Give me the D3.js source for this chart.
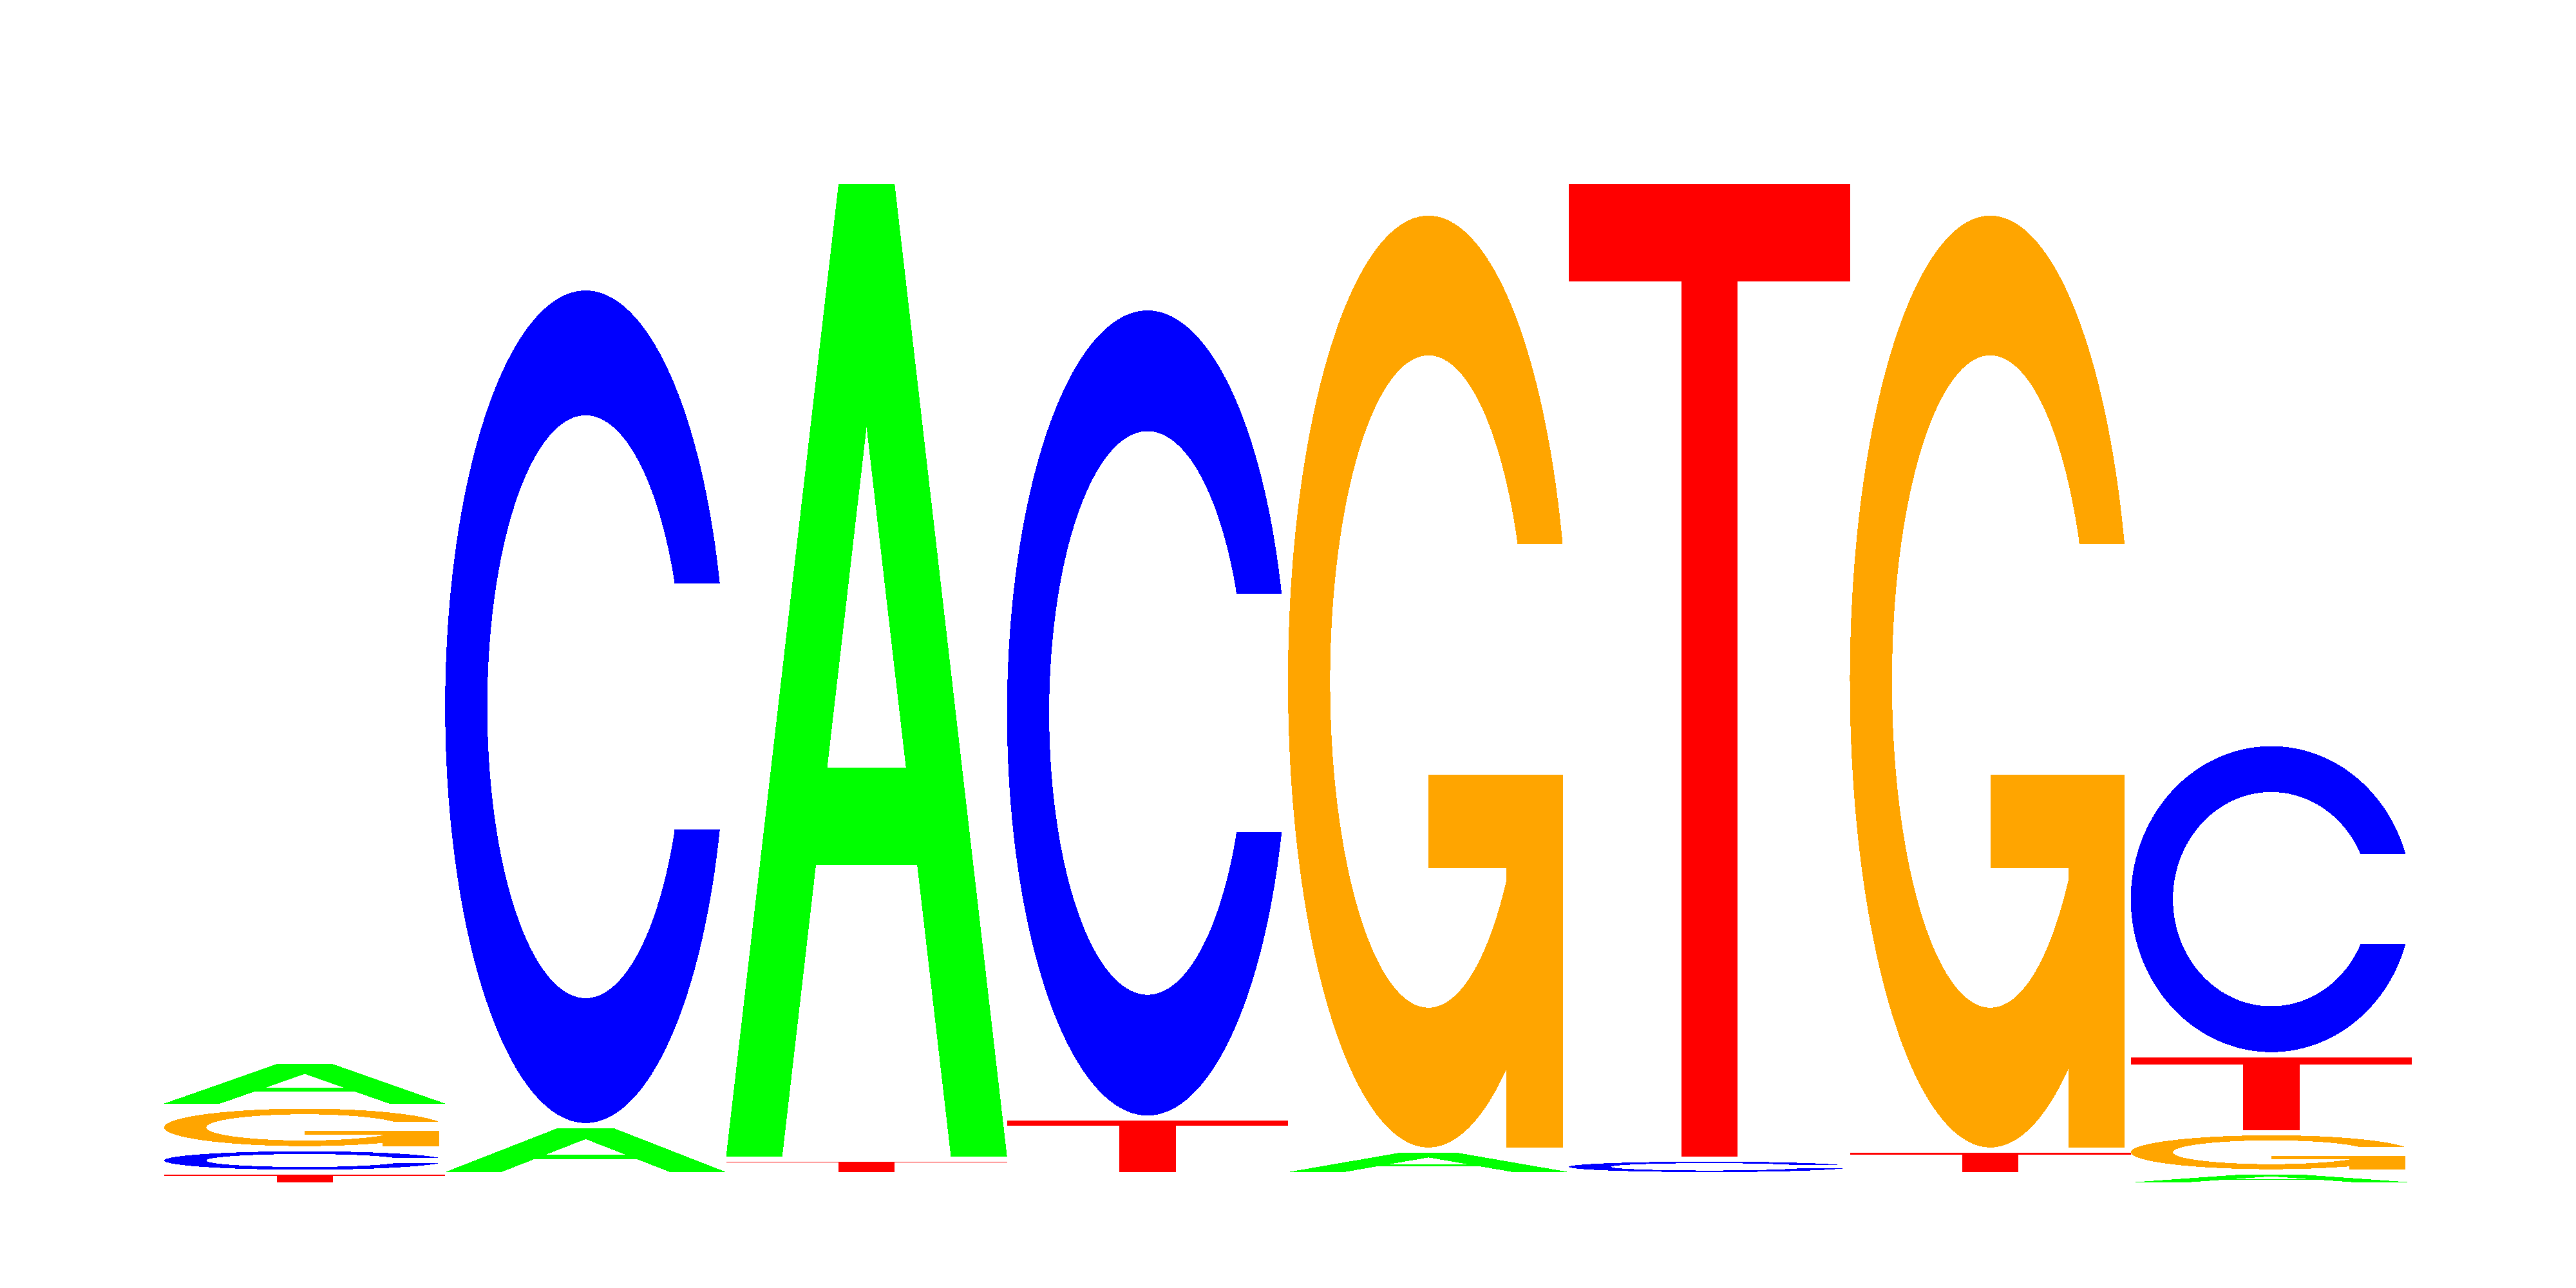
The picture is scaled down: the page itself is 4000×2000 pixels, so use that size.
<!DOCTYPE html>
<html>
<head>
<meta charset="utf-8">
<script src="https://cdn.jsdelivr.net/npm/d3@7"></script>
<style>
  body { margin: 0; background: #fff; }
  svg { display: block; }
</style>
</head>
<body>
<div id="logo"></div>
<script>
var positions = [1, 2, 3, 4, 5, 6, 7, 8];
var bases = ['A', 'C', 'G', 'T'];
var bitsA = [0.079, 0.088, 1.948, 0, 0.039, 0, 0, 0.016];
var bitsC = [0.037, 1.668, 0, 1.613, 0, 0.021, 0, 0.613];
var bitsG = [0.075, 0, 0, 0, 1.867, 0, 1.867, 0.068];
var bitsT = [0.015, 0, 0.021, 0.103, 0, 1.948, 0.039, 0.146];

var colours = { A: '#00ff00', C: '#0000ff', G: '#ffa500', T: '#ff0000' };

function logo(parent) {
  var width = 4000,
      height = 2000,
      baseline = 1836,
      letterGap = 8;

  var svg = d3.select(parent)
    .append('svg')
    .attr('width', width)
    .attr('height', height);

  svg.append('rect')
    .attr('width', width)
    .attr('height', height)
    .attr('fill', '#fff');

  var x = d3.scaleBand()
    .domain(positions)
    .range([255, 3745])
    .padding(0);

  // bits -> pixel height of a letter
  var y = d3.scaleLinear()
    .domain([0, 2])
    .range([0, 1550]);

  function seq(a, b, n) {
    return d3.range(n).map(function(i) { return a + (b - a) * i / (n - 1); });
  }

  // letter outlines in unit box, y pointing up (same construction as seqLogo)
  var a1 = seq(0.3 + Math.PI / 2, Math.PI, 100),
      a2 = seq(Math.PI, 1.5 * Math.PI, 100);
  var r1 = 0.5 + 0.5 * Math.sin(a1[0]),
      yCut = 0.5 + 0.5 * Math.cos(a1[0]);

  function ringC() {
    var outer = a1.concat(a2).map(function(a) {
      return [0.5 + 0.5 * Math.sin(a), 0.5 + 0.5 * Math.cos(a)];
    });
    var inner1 = a1.map(function(a) {
      return [0.5 + 0.35 * Math.sin(a), 0.5 + 0.35 * Math.cos(a)];
    }).filter(function(p) { return p[1] <= yCut; });
    inner1[0] = [inner1[0][0], yCut];
    var inner = inner1.concat(a2.map(function(a) {
      return [0.5 + 0.35 * Math.sin(a), 0.5 + 0.35 * Math.cos(a)];
    }));
    var outerFull = outer.concat(outer.slice().reverse().map(function(p) { return [p[0], 1 - p[1]]; }));
    var innerFull = inner.concat(inner.slice().reverse().map(function(p) { return [p[0], 1 - p[1]]; }));
    return outerFull.concat(innerFull.reverse());
  }

  function scalePts(arrX, arrY) {
    return arrX.map(function(v, i) { return [v / 10, arrY[i] / 10]; });
  }

  var glyphs = {
    A: [[
      scalePts([0, 4, 6, 10, 8, 6.8, 3.2, 2, 0], [0, 10, 10, 0, 0, 3, 3, 0, 0]),
      scalePts([3.6, 5, 6.4, 3.6], [4, 7.5, 4, 4])
    ]],
    C: [[ringC()]],
    G: [[ringC()], [[[r1, 0.4], [0.5, 0.4], [0.5, 0.3], [r1 - 0.2, 0.3], [r1 - 0.2, 0], [r1, 0], [r1, 0.4]]]],
    T: [[scalePts([0, 10, 10, 6, 6, 4, 4, 0], [10, 10, 9, 9, 0, 0, 9, 9])]]
  };

  var bitsByBase = { A: bitsA, C: bitsC, G: bitsG, T: bitsT };

  // stack letters per position, smallest at the bottom
  var letters = [];
  positions.forEach(function(p, i) {
    var col = bases.map(function(b) { return { pos: p, base: b, bits: bitsByBase[b][i] }; });
    col.sort(function(a, b) { return a.bits - b.bits; });
    var bottom = baseline;
    col.forEach(function(l) {
      l.h = y(l.bits);
      l.bottom = bottom;
      bottom -= l.h + letterGap;
      if (l.bits > 0) letters.push(l);
    });
  });

  var g = svg.selectAll('g.letter')
    .data(letters)
    .enter()
    .append('g')
    .attr('class', 'letter');

  g.each(function(l) {
    var x0 = x(l.pos),
        w = x.bandwidth();
    var line = d3.line()
      .x(function(p) { return x0 + p[0] * w; })
      .y(function(p) { return l.bottom - p[1] * l.h; });

    d3.select(this).selectAll('path')
      .data(glyphs[l.base])
      .enter()
      .append('path')
      .attr('d', function(rings) {
        return rings.map(function(r) { return line(r) + 'Z'; }).join('');
      })
      .attr('fill', colours[l.base])
      .attr('fill-rule', 'evenodd')
      .attr('shape-rendering', 'crispEdges');
  });
}

logo(document.getElementById('logo'));
</script>
</body>
</html>
